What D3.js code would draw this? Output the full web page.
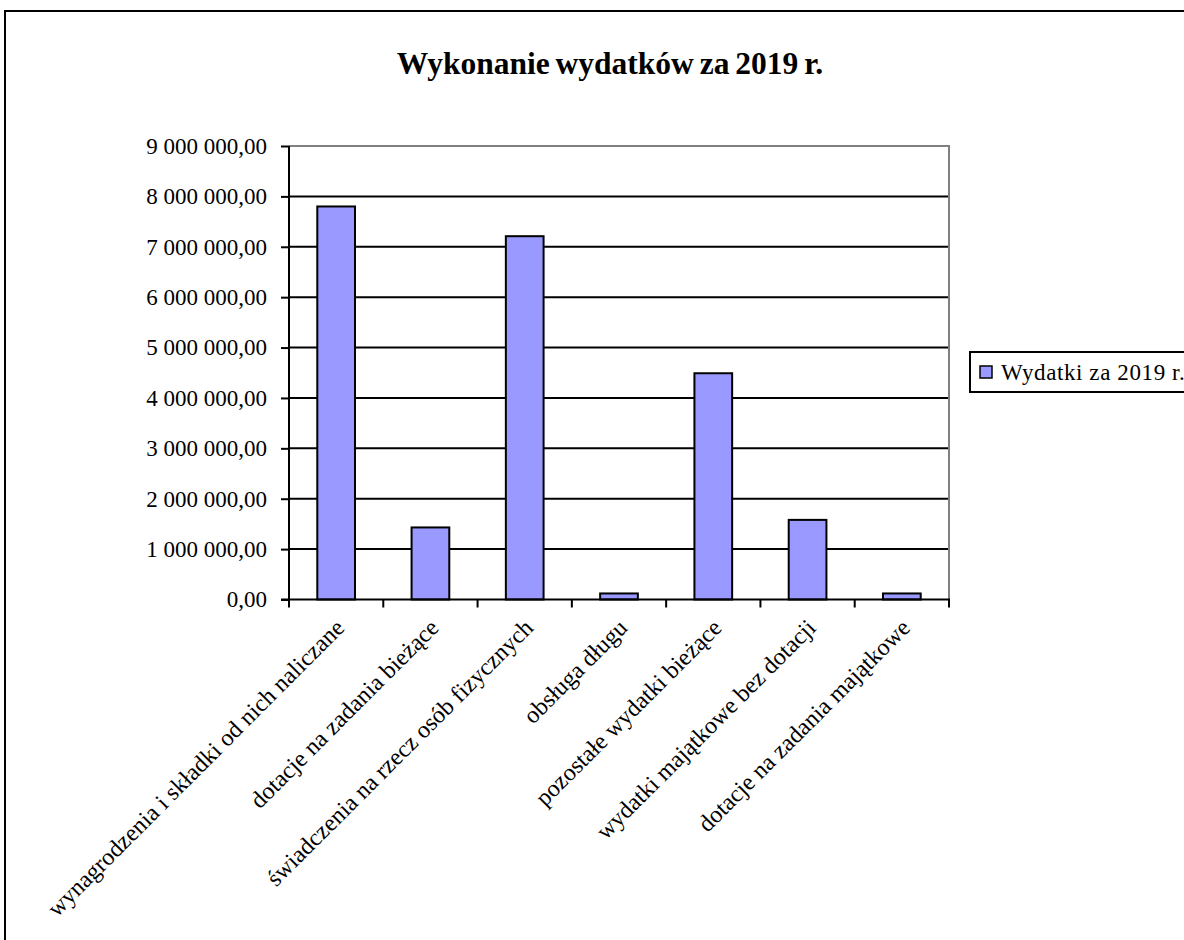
<!DOCTYPE html>
<html>
<head>
<meta charset="utf-8">
<script src="https://cdn.jsdelivr.net/npm/d3@7"></script>
<style>
  body { margin: 0; background: #fff; }
  svg { display: block; font-family: "Liberation Serif", "Times New Roman", serif; }
</style>
</head>
<body>
<svg id="chart" width="1184" height="940"></svg>
<script>
const categories = [
  'wynagrodzenia i składki od nich naliczane',
  'dotacje na zadania bieżące',
  'świadczenia na rzecz osób fizycznych',
  'obsługa długu',
  'pozostałe wydatki bieżące',
  'wydatki majątkowe bez dotacji',
  'dotacje na zadania majątkowe'
];
const values = [7800000, 1430000, 7210000, 120000, 4490000, 1580000, 120000];
const yTicks = [0, 1000000, 2000000, 3000000, 4000000, 5000000, 6000000, 7000000, 8000000, 9000000];
const seriesName = 'Wydatki za 2019 r.';
const title = 'Wykonanie wydatków za 2019 r.';

const barColour = '#9999ff';

const margin = { top: 146, left: 289 };
const width = 660;
const height = 453.5;

const svg = d3.select('#chart');

// outer chart border (runs off the right and bottom)
svg.append('rect')
  .attr('x', 5)
  .attr('y', 11)
  .attr('width', 1300)
  .attr('height', 1100)
  .attr('fill', 'none')
  .attr('stroke', '#000')
  .attr('stroke-width', 2);

svg.append('text')
  .attr('x', 610)
  .attr('y', 74)
  .attr('text-anchor', 'middle')
  .style('font-size', '31.5px')
  .style('font-weight', 'bold')
  .style('word-spacing', '-2px')
  .text(title);

const g = svg.append('g')
  .attr('transform', `translate(${margin.left}, ${margin.top})`);

const x = d3.scaleBand()
  .domain(categories)
  .range([0, width]);

const y = d3.scaleLinear()
  .domain([0, 9000000])
  .range([height, 0]);

const fmt = v => d3.format(',.2f')(v).replace(/,/g, ' ').replace('.', ',');

// gridlines
g.selectAll('.grid')
  .data(yTicks.filter(d => d > 0 && d < 9000000))
  .enter()
  .append('line')
  .attr('class', 'grid')
  .attr('x1', 0)
  .attr('x2', width)
  .attr('y1', d => y(d))
  .attr('y2', d => y(d))
  .attr('stroke', '#000')
  .attr('stroke-width', 2);

// plot area border top/right (grey)
g.append('path')
  .attr('d', `M0,${y(9000000)}H${width}V${height}`)
  .attr('fill', 'none')
  .attr('stroke', '#808080')
  .attr('stroke-width', 2);

// bars
const bandPad = x.bandwidth() * 0.6 / 2;
g.selectAll('.bar')
  .data(values)
  .enter()
  .append('rect')
  .attr('class', 'bar')
  .attr('x', (d, i) => x(categories[i]) + bandPad)
  .attr('width', x.bandwidth() - 2 * bandPad)
  .attr('y', d => y(d))
  .attr('height', d => height - y(d))
  .attr('fill', barColour)
  .attr('stroke', '#000')
  .attr('stroke-width', 2);

// y axis
const yAxis = d3.axisLeft(y)
  .tickValues(yTicks)
  .tickSize(8)
  .tickPadding(14)
  .tickFormat(fmt);

g.append('g')
  .attr('class', 'y axis')
  .call(yAxis)
  .call(a => a.select('.domain').attr('stroke-width', 2).attr('d', `M0,0V${height}`))
  .call(a => a.selectAll('.tick line').attr('stroke-width', 2))
  .call(a => a.selectAll('.tick text')
    .style('font-size', '23px')
    .style('font-family', '"Liberation Serif", serif')
    .attr('fill', '#000'));

// x axis: ticks at category boundaries
const xAxisG = g.append('g')
  .attr('class', 'x axis')
  .attr('transform', `translate(0, ${height})`);

xAxisG.append('line')
  .attr('x1', -8)
  .attr('x2', width + 1)
  .attr('stroke', '#000')
  .attr('stroke-width', 2);

xAxisG.selectAll('.xtick')
  .data(d3.range(categories.length + 1))
  .enter()
  .append('line')
  .attr('class', 'xtick')
  .attr('x1', i => i * x.step())
  .attr('x2', i => i * x.step())
  .attr('y1', 0)
  .attr('y2', 8)
  .attr('stroke', '#000')
  .attr('stroke-width', 2);

xAxisG.selectAll('.xlabel')
  .data(categories)
  .enter()
  .append('text')
  .attr('class', 'xlabel')
  .attr('transform', d => `translate(${x(d) + x.bandwidth() / 2 - 3}, 17) rotate(-45)`)
  .attr('text-anchor', 'end')
  .attr('dy', '0.75em')
  .style('font-size', '24px')
  .text(d => d);

// legend
const legend = svg.append('g')
  .attr('transform', 'translate(970, 352)');

legend.append('rect')
  .attr('width', 260)
  .attr('height', 40)
  .attr('fill', '#fff')
  .attr('stroke', '#000')
  .attr('stroke-width', 2);

legend.append('rect')
  .attr('x', 10)
  .attr('y', 14)
  .attr('width', 12)
  .attr('height', 12)
  .attr('fill', barColour)
  .attr('stroke', '#000')
  .attr('stroke-width', 1.5);

legend.append('text')
  .attr('x', 31)
  .attr('y', 28)
  .style('font-size', '23px')
  .style('letter-spacing', '0.6px')
  .text(seriesName);
</script>
</body>
</html>
